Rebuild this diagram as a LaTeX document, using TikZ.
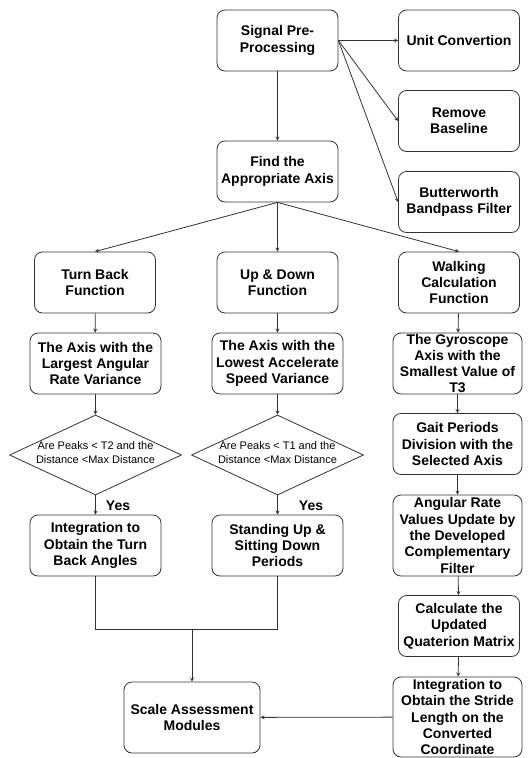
\documentclass[tikz,border=0pt]{standalone}
\usepackage{fontspec}
\setmainfont{Liberation Sans}
\usepackage{tikz}
\usetikzlibrary{arrows,shapes}
\definecolor{linecol}{RGB}{50,50,50}
\tikzstyle{block}=[draw=linecol,line width=0.8pt,rounded corners=8pt,minimum width=121pt,minimum height=61pt,inner sep=0pt,align=center,font={\fontsize{14}{16.3}\selectfont\bfseries}]
\tikzstyle{decision}=[draw=linecol,line width=0.8pt,diamond,inner sep=0pt,minimum width=172pt,minimum height=80pt,font={\fontsize{11}{14}\selectfont}]
\tikzstyle{yeslabel}=[font={\fontsize{14}{16}\selectfont\bfseries}]
\tikzstyle{edge} = [draw,line width=0.8pt,linecol,-]
\tikzstyle{dedge} = [draw,line width=0.8pt,linecol,->]
\newcommand{\difftext}[2]{\raisebox{-3pt}{\smash{\makebox[0pt]{\begin{tabular}{@{}c@{}}#1\\#2\end{tabular}}}}}

\begin{document}
\begin{tikzpicture}[x=1pt,y=-1pt,>=stealth]
                    \node[block] (pre) at (277.5,40.5) {Signal Pre-\\Processing};
                    \node[block] (unit) at (459,40.5) {Unit Convertion};
                    \node[block] (base) at (459,121) {Remove\\Baseline};
                    \node[block] (butter) at (459,202) {Butterworth\\Bandpass Filter};
                    \node[block] (axis) at (277.5,171.5) {Find the\\Appropriate Axis};

                    \node[block] (turn) at (95,282.5) {Turn Back\\Function};
                    \node[block] (updown) at (277.5,282.5) {Up \& Down\\Function};
                    \node[block] (walk) at (459,282.5) {Walking\\Calculation\\Function};

                    \node[block,minimum width=131pt] (largest) at (95.5,363.5) {The Axis with the\\Largest Angular\\Rate Variance};
                    \node[block,minimum width=131pt] (lowest) at (277.5,363.5) {The Axis with the\\Lowest Accelerate\\Speed Variance};
                    \node[block,minimum width=129pt] (gyro) at (457.5,363.5) {The Gyroscope\\Axis with the\\Smallest Value of\\T3};

                    \node[decision] (peak2) at (95.5,455) {\difftext{Are Peaks < T2 and the}{Distance <Max Distance}};
                    \node[decision] (peak1) at (277.5,455) {\difftext{Are Peaks < T1 and the}{Distance <Max Distance}};
                    \node[block,minimum width=129pt] (gait) at (457.5,444) {Gait Periods\\Division with the\\Selected Axis};

                    \node[block,minimum width=131pt] (angle) at (95.5,545.5) {Integration to\\Obtain the Turn\\Back Angles};
                    \node[block,minimum width=131pt] (stand) at (277.5,545.5) {Standing Up \&\\Sitting Down\\Periods};
                    \node[block,minimum width=129pt,minimum height=81pt] (filter) at (457.5,535.5) {Angular Rate\\Values Update by\\the Developed\\Complementary\\Filter};
                    \node[block] (quat) at (459,626) {Calculate the\\Updated\\Quaterion Matrix};
                    \node[block,minimum width=129pt,minimum height=80pt] (stride) at (457.5,717) {Integration to\\Obtain the Stride\\Length on the\\Converted\\Coordinate};
                    \node[block,minimum width=136pt,minimum height=71pt] (scale) at (192,717.5) {Scale Assessment\\Modules};

                    \node[yeslabel] (yes2) at (118,506) {Yes};
                    \node[yeslabel] (yes1) at (311,506) {Yes};
                    \coordinate (join) at (192,629);

                    \path[dedge] (pre) -- (axis);
                    \path[dedge] (pre.east) -- (unit.west);
                    \path[dedge] (pre.east) -- (base.west);
                    \path[dedge] (pre.east) -- (butter.west);
                    \path[dedge] (axis.south) -- (turn.north);
                    \path[dedge] (axis.south) -- (updown.north);
                    \path[dedge] (axis.south) -- (walk.north);

                    \path[dedge] (turn) -- (largest);
                    \path[dedge] (largest) -- (peak2);
                    \path[dedge] (peak2) -- (angle);
                    \path[dedge] (updown) -- (lowest);
                    \path[dedge] (lowest) -- (peak1);
                    \path[dedge] (peak1) -- (stand);

                    \path[dedge] (walk) -- (gyro);
                    \path[dedge] (gyro) -- (gait);
                    \path[dedge] (gait) -- (filter);
                    \path[dedge] (filter) -- (quat);
                    \path[dedge] (quat) -- (stride);
                    \path[dedge] (stride) -- (scale);

                    \path[edge] (angle.south) -- (angle.south |- join) -- (stand.south |- join) -- (stand.south);
                    \path[dedge] (join) -- (scale);

                    \pgfresetboundingbox
                    \path [use as bounding box] (0,0) rectangle (531,758);
                \end{tikzpicture}
\end{document}
